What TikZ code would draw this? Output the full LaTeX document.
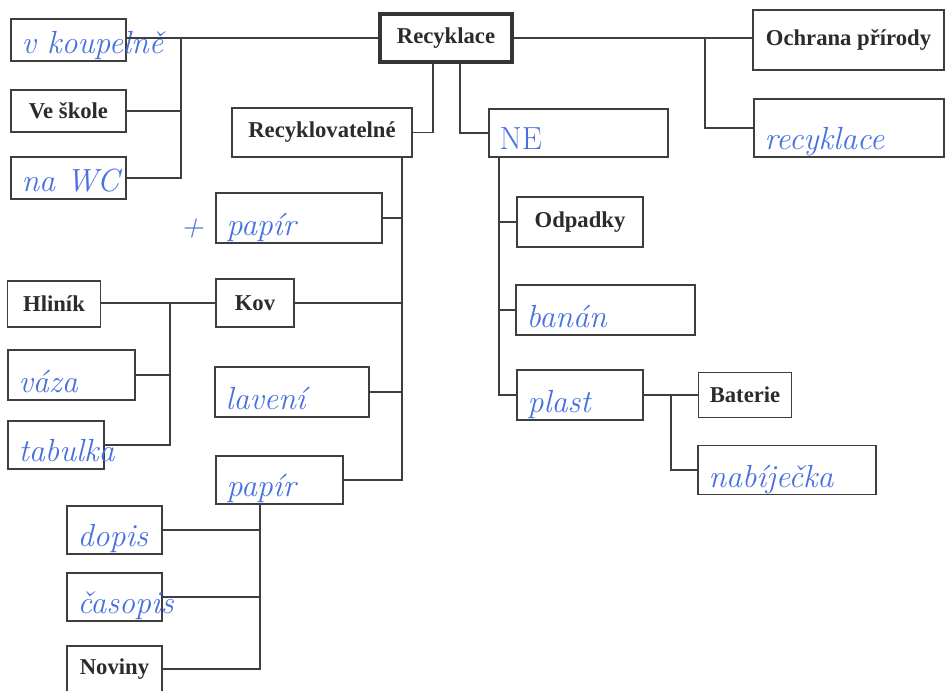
\documentclass[tikz,border=0pt]{standalone}
\usepackage{fontspec}
\usepackage{tikz}
\newfontfamily\printfont{Liberation Serif}
\definecolor{inkblue}{RGB}{72,112,222}
\definecolor{printgray}{RGB}{40,44,44}
\definecolor{framegray}{RGB}{62,62,62}
\tikzset{
  box/.style={rectangle, draw=framegray, line width=1.2pt, inner sep=0pt,
    font=\printfont\bfseries\fontsize{17}{20}\selectfont, text=printgray},
  mainbox/.style={box, line width=2.4pt, draw=framegray!85!black},
  dims/.style 2 args={minimum width=#1*0.75pt, minimum height=#2*0.75pt},
  hand/.style={font=\itshape\fontsize{24}{28}\selectfont, text=inkblue},
  handbox/.style={box, label={[hand, anchor=base west, xshift=5pt, yshift=6pt]south west:#1}},
  conn/.style={draw=framegray, line width=1.2pt}
}

\begin{document}
\begin{tikzpicture}[x=0.75pt, y=-0.75pt]
  \useasboundingbox (0,0) rectangle (948,691);
  % Top row
  \node[mainbox, dims={132}{48}] (recyk) at (446,38) {Recyklace};
  \node[box, dims={191}{60}] (ochrana) at (848.5,40) {Ochrana přírody};
  \node[handbox={recyklace}, dims={190}{58}] (recyklace) at (849,128) {};
  % Left column
  \node[handbox={v koupelně}, dims={115}{42}] (koupelna) at (68.5,40) {};
  \node[box, dims={115}{42}] (skola) at (68.5,111) {Ve škole};
  \node[handbox={na WC}, dims={115}{42}] (wc) at (68.5,178) {};
  % Recyclable branch
  \node[box, dims={180}{49}] (recykl) at (322,132.5) {Recyklovatelné};
  \node[handbox={papír}, dims={166}{50}] (papir) at (299,218) {};
  \node[hand] (plus) at (192,229) {+};
  \node[box, dims={78}{48}] (kov) at (255,303) {Kov};
  \node[box, dims={93}{46}] (hlinik) at (54,304) {Hliník};
  \node[handbox={váza}, dims={127}{50}] (vaza) at (71.5,375) {};
  \node[handbox={tabulka}, dims={96}{48}] (tabulka) at (56,445) {};
  \node[handbox={lavení}, dims={154}{50}] (laveni) at (292,392) {};
  \node[handbox={papír}, dims={127}{48}] (papir2) at (279.5,480) {};
  \node[handbox={dopis}, dims={95}{48}] (dopis) at (114.5,530) {};
  \node[handbox={časopis}, dims={95}{48}] (casopis) at (114.5,597) {};
  \node[box, dims={95}{46}] (noviny) at (114.5,669) {Noviny};
  % Non-recyclable branch
  \node[handbox={\upshape NE}, dims={179}{48}] (ne) at (578.5,133) {};
  \node[box, dims={126}{50}] (odpadky) at (580,222) {Odpadky};
  \node[handbox={banán}, dims={179}{50}] (banan) at (605.5,310) {};
  \node[handbox={plast}, dims={126}{50}] (plast) at (580,395) {};
  \node[box, dims={93}{45}] (baterie) at (745,395) {Baterie};
  \node[handbox={nabíječka}, dims={178}{49}] (nabijecka) at (787,470) {};
  % Trunk lines
  \coordinate (lt) at (181,0);
  \coordinate (rl) at (433,0);
  \coordinate (rn) at (460,0);
  \coordinate (rt) at (705,0);
  \coordinate (mt) at (402,0);
  \coordinate (kt) at (170,0);
  \coordinate (pt) at (260,0);
  \coordinate (nt) at (499,0);
  \coordinate (bt) at (671,0);
  % Connectors
  \draw[conn] (recyk.west) -- (recyk.west -| koupelna.east);
  \draw[conn] (recyk.west -| lt) |- (skola.east);
  \draw[conn] (recyk.west -| lt) |- (wc.east);
  \draw[conn] (recyk.east) -- (recyk.east -| ochrana.west);
  \draw[conn] (recyk.east -| rt) |- (recyklace.west);
  \draw[conn] (recyk.south -| rl) |- (recykl.east);
  \draw[conn] (recyk.south -| rn) |- (ne.west);
  \draw[conn] (recykl.south -| mt) |- (papir2.east);
  \draw[conn] (papir.east) -- (papir.east -| mt);
  \draw[conn] (kov.east) -- (kov.east -| mt);
  \draw[conn] (laveni.east) -- (laveni.east -| mt);
  \draw[conn] (kov.west) -- (kov.west -| hlinik.east);
  \draw[conn] (kov.west -| kt) |- (vaza.east);
  \draw[conn] (kov.west -| kt) |- (tabulka.east);
  \draw[conn] (papir2.south -| pt) |- (dopis.east);
  \draw[conn] (papir2.south -| pt) |- (casopis.east);
  \draw[conn] (papir2.south -| pt) |- (noviny.east);
  \draw[conn] (ne.south -| nt) |- (odpadky.west);
  \draw[conn] (ne.south -| nt) |- (banan.west);
  \draw[conn] (ne.south -| nt) |- (plast.west);
  \draw[conn] (plast.east) -- (plast.east -| baterie.west);
  \draw[conn] (plast.east -| bt) |- (nabijecka.west);
\end{tikzpicture}
\end{document}
